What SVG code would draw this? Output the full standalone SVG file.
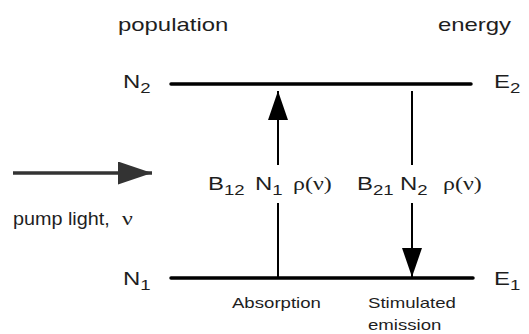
<svg xmlns="http://www.w3.org/2000/svg" width="529" height="334" viewBox="0 0 529 334">
<style>
.t{font-family:"Liberation Sans",Arial,sans-serif;font-size:18px;fill:#1e1e1e}
.s{font-size:14px}
.g{font-family:"Liberation Serif","Times New Roman",serif}
.lvl{stroke:#000;stroke-width:3.5;stroke-linecap:round;fill:none}
.ar{stroke:#000;stroke-width:2;fill:none}
.pump{stroke:#333;stroke-width:3.5;fill:none}
</style>
<defs>
<marker id="ah" viewBox="0 0 29 20" refX="29" refY="10" markerWidth="29" markerHeight="20" markerUnits="userSpaceOnUse" orient="auto"><path d="M0,0 L29,10 L0,20 z" fill="#000"/></marker>
<marker id="ahp" viewBox="0 0 34 23" refX="34" refY="11.5" markerWidth="34" markerHeight="23" markerUnits="userSpaceOnUse" orient="auto"><path d="M0,0 L34,11.5 L0,23 z" fill="#333"/></marker>
</defs>
<rect width="529" height="334" fill="#fff"/>
<g id="headers" transform="scale(1.33,1)">
<text class="t" x="88.7" y="31">population</text>
<text class="t" x="329.3" y="31">energy</text>
</g>
<g id="level-upper">
<line class="lvl" x1="171" y1="84" x2="471" y2="84"/>
<g transform="scale(1.33,1)">
<text class="t" x="92.5" y="88">N<tspan class="s" dy="5">2</tspan></text>
<text class="t" x="371.4" y="88">E<tspan class="s" dy="5">2</tspan></text>
</g>
</g>
<g id="level-lower">
<line class="lvl" x1="171" y1="278" x2="473" y2="278"/>
<g transform="scale(1.33,1)">
<text class="t" x="92.5" y="285">N<tspan class="s" dy="5">1</tspan></text>
<text class="t" x="371.4" y="285">E<tspan class="s" dy="5">1</tspan></text>
</g>
</g>
<g id="absorption-label" transform="scale(1.33,1)">
<text class="t" x="156.4" y="190">B<tspan class="s" dy="5">12</tspan><tspan x="191.7" dy="-5">N</tspan><tspan class="s" dy="5">1</tspan><tspan class="g" x="220.3" dy="-5">ρ(ν)</tspan></text>
<text class="t s" x="174.4" y="308">Absorption</text>
</g>
<g id="emission-label" transform="scale(1.33,1)">
<text class="t" x="268.4" y="190">B<tspan class="s" dy="5">21</tspan><tspan x="300.8" dy="-5">N</tspan><tspan class="s" dy="5">2</tspan><tspan class="g" x="333.1" dy="-5">ρ(ν)</tspan></text>
<text class="t s" x="276.7" y="308">Stimulated</text>
<text class="t s" x="276.7" y="330">emission</text>
</g>
<g id="pump">
<text class="t" transform="scale(1.1,1)" x="11.8" y="225">pump light,</text>
<text class="t g" transform="scale(1.33,1)" x="91.7" y="225" font-size="20">ν</text>
</g>
<g id="connectors">
<line class="ar" x1="278" y1="278" x2="278" y2="203"/>
<line class="ar" x1="278" y1="165" x2="278" y2="91" marker-end="url(#ah)"/>
<line class="ar" x1="412" y1="91" x2="412" y2="165"/>
<line class="ar" x1="412" y1="203" x2="412" y2="277" marker-end="url(#ah)"/>
<line class="pump" x1="13" y1="173" x2="152" y2="173" marker-end="url(#ahp)"/>
</g>
</svg>
